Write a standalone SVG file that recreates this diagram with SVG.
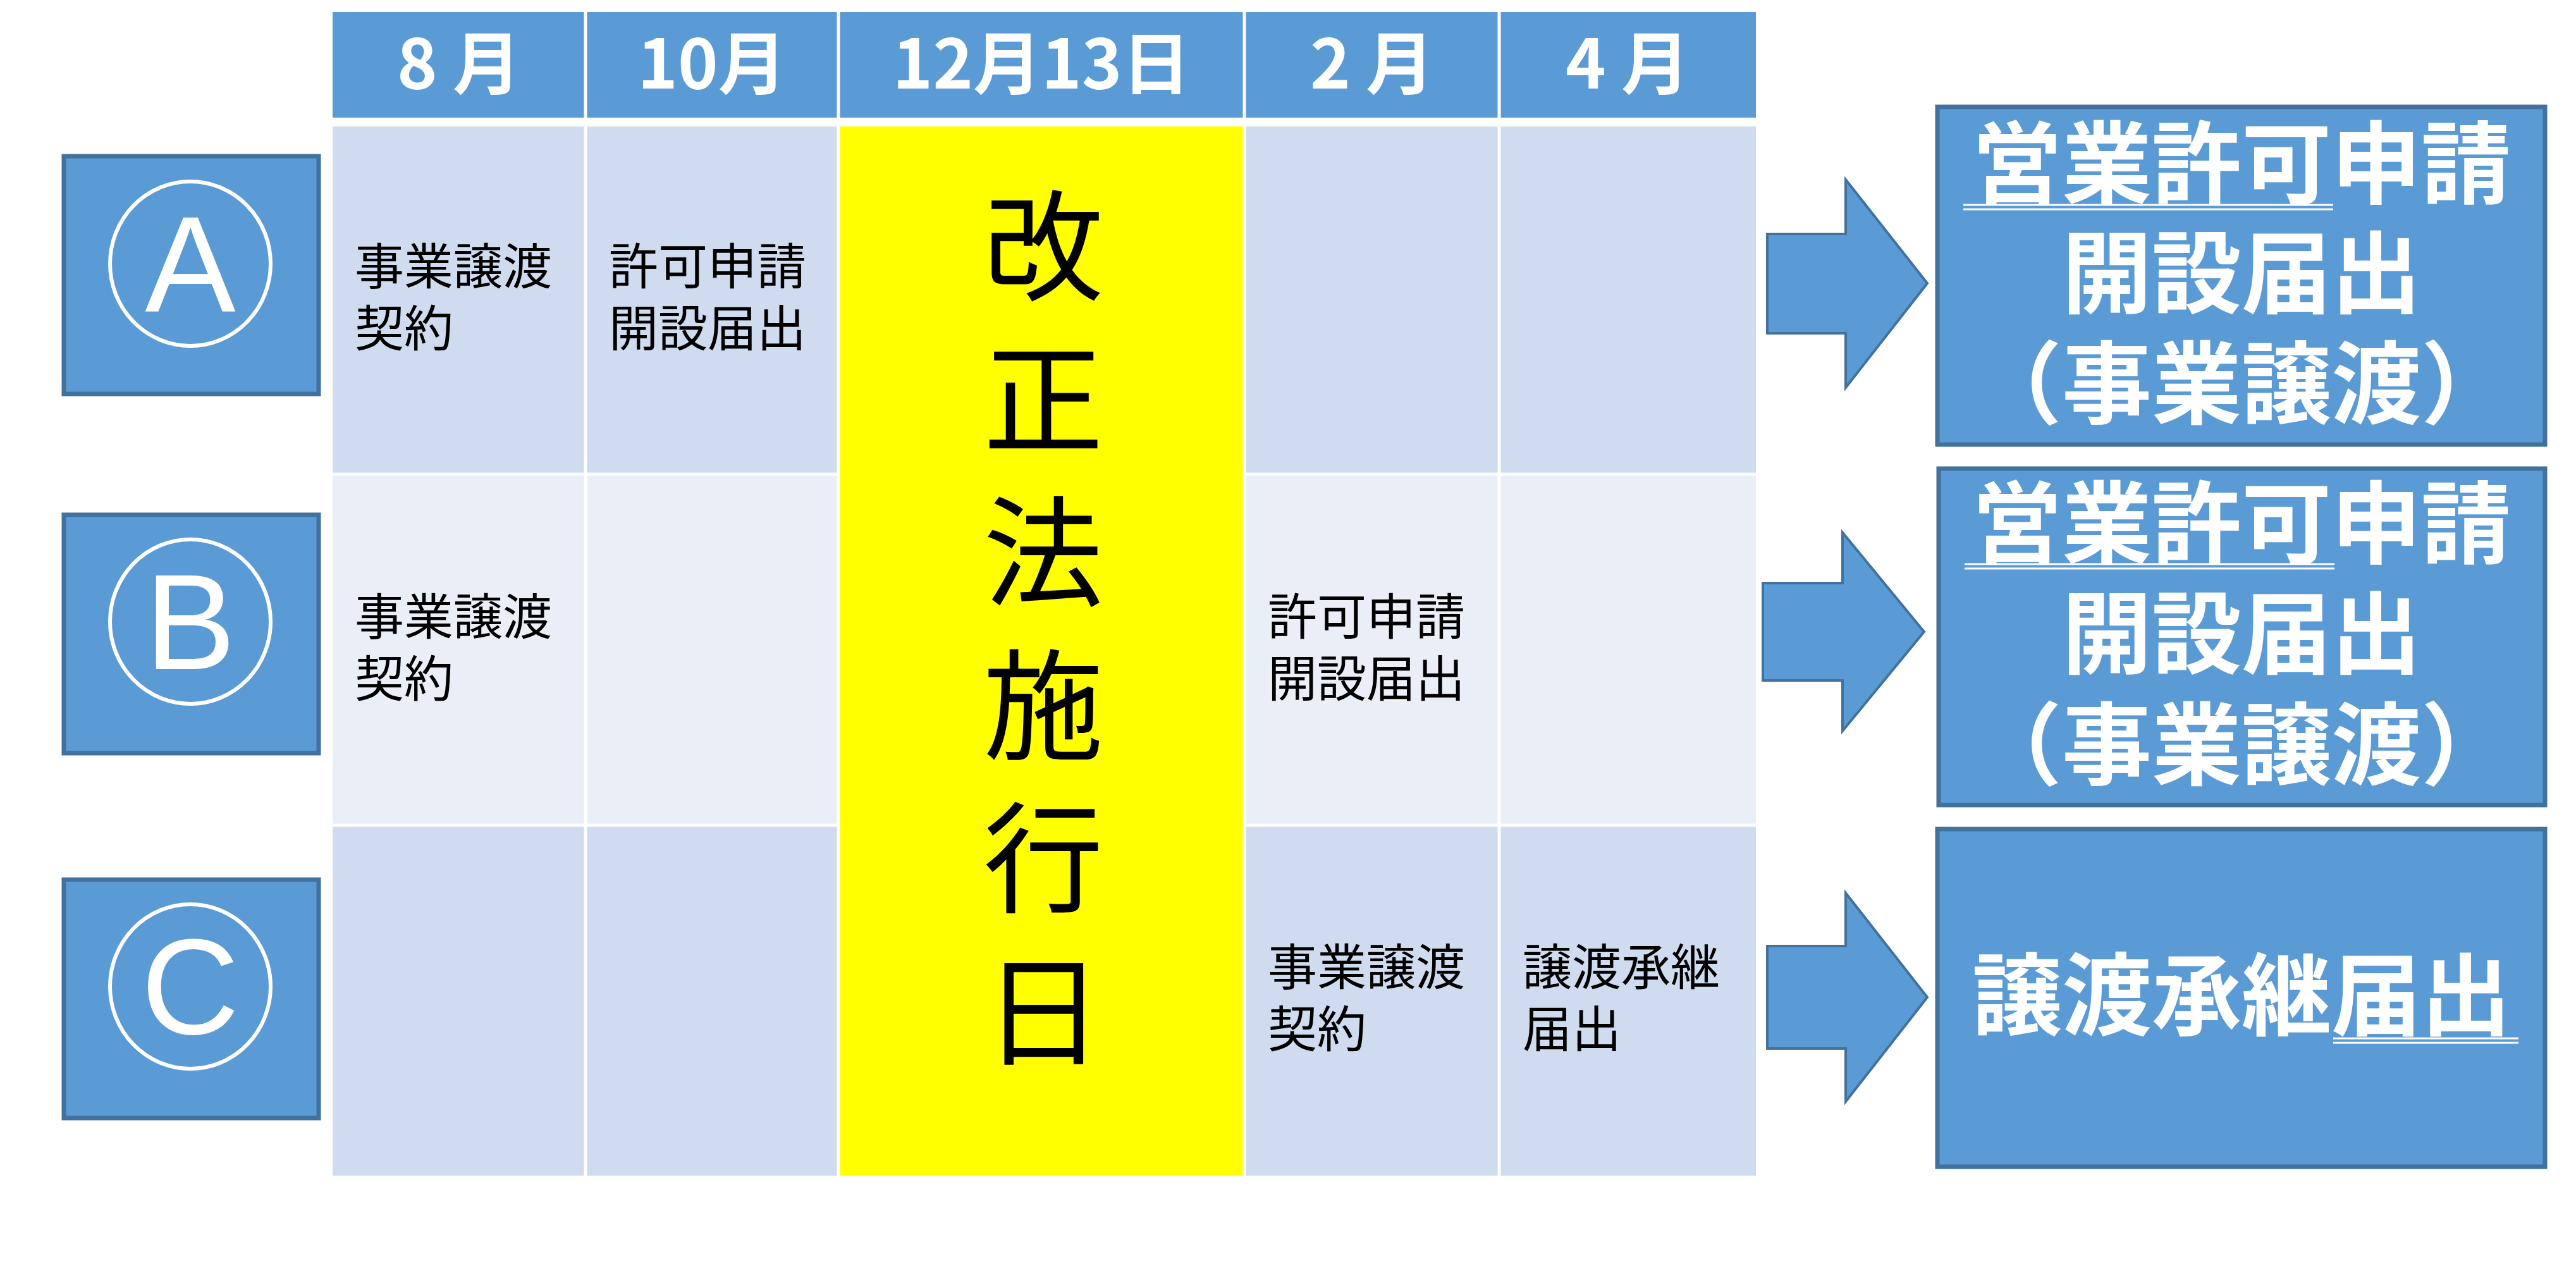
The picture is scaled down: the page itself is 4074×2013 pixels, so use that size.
<svg xmlns="http://www.w3.org/2000/svg" width="4074" height="2013" viewBox="0 0 4074 2013">
<style>
.hd{fill:#5B9BD5}
.c1{fill:#CFDBEE}
.c2{fill:#E9EEF7}
.grid{stroke:#fff;stroke-width:5}
.hdt{font-family:"Noto Sans CJK JP",sans-serif;font-weight:bold;font-size:108px;fill:#fff;text-anchor:middle}
.bt{font-family:"Noto Sans CJK JP",sans-serif;font-size:78px;fill:#000}
.vt{font-family:"Noto Sans CJK JP",sans-serif;font-size:190px;fill:#000;text-anchor:middle}
.lb{fill:#5B9BD5;stroke:#41719C;stroke-width:7}
.lt{font-family:"Liberation Sans",sans-serif;font-size:215px;fill:#fff;text-anchor:middle}
.ci{fill:none;stroke:#fff;stroke-width:6}
.rt{font-family:"Noto Sans CJK JP",sans-serif;font-weight:bold;font-size:142px;fill:#fff;text-anchor:middle}
.ul{stroke:#fff;stroke-width:3}
.ar{fill:#5B9BD5;stroke:#41719C;stroke-width:4}
</style>
<rect width="4074" height="2013" fill="#fff"/>
<g id="table">
<rect class="hd" x="526" y="19" width="2251" height="167"/>
<rect class="c1" x="526" y="200" width="2251" height="550"/>
<rect class="c2" x="526" y="750" width="2251" height="555"/>
<rect class="c1" x="526" y="1305" width="2251" height="554"/>
<rect x="1326" y="200" width="642" height="1659" fill="#FFFF00"/>
<g class="grid">
<line x1="526" y1="193" x2="2777" y2="193" stroke-width="14"/>
<line x1="926" y1="19" x2="926" y2="1859"/>
<line x1="1326" y1="19" x2="1326" y2="1859"/>
<line x1="1968" y1="19" x2="1968" y2="1859"/>
<line x1="2371" y1="19" x2="2371" y2="1859"/>
<line x1="526" y1="750" x2="1326" y2="750"/>
<line x1="1968" y1="750" x2="2777" y2="750"/>
<line x1="526" y1="1305" x2="1326" y2="1305"/>
<line x1="1968" y1="1305" x2="2777" y2="1305"/>
</g>
<text class="hdt" x="726" y="140">8 月</text>
<text class="hdt" x="1126" y="140">10月</text>
<text class="hdt" x="1647" y="140">12月13日</text>
<text class="hdt" x="2170" y="140">2 月</text>
<text class="hdt" x="2574" y="140">4 月</text>
<text class="bt" x="561" y="450">事業譲渡</text>
<text class="bt" x="561" y="548">契約</text>
<text class="bt" x="963" y="450">許可申請</text>
<text class="bt" x="963" y="548">開設届出</text>
<text class="bt" x="561" y="1004">事業譲渡</text>
<text class="bt" x="561" y="1102">契約</text>
<text class="bt" x="2005" y="1004">許可申請</text>
<text class="bt" x="2005" y="1102">開設届出</text>
<text class="bt" x="2005" y="1558">事業譲渡</text>
<text class="bt" x="2005" y="1656">契約</text>
<text class="bt" x="2408" y="1558">譲渡承継</text>
<text class="bt" x="2408" y="1656">届出</text>
<text class="vt" x="1650" y="460">改</text>
<text class="vt" x="1650" y="702">正</text>
<text class="vt" x="1650" y="944">法</text>
<text class="vt" x="1650" y="1186">施</text>
<text class="vt" x="1650" y="1428">行</text>
<text class="vt" x="1650" y="1670">日</text>
</g>
<g id="A">
<rect class="lb" x="101" y="247" width="403" height="376"/>
<ellipse class="ci" cx="301" cy="417" rx="127" ry="130"/>
<text class="lt" x="301" y="492">A</text>
</g>
<g id="B">
<rect class="lb" x="101" y="814" width="403" height="377"/>
<ellipse class="ci" cx="301" cy="983" rx="127" ry="130"/>
<text class="lt" x="301" y="1058">B</text>
</g>
<g id="C">
<rect class="lb" x="101" y="1391" width="403" height="377"/>
<ellipse class="ci" cx="301" cy="1560" rx="127" ry="130"/>
<text class="lt" x="301" y="1635">C</text>
</g>
<g id="connectors">
<polygon class="ar" points="2795,370 2919,370 2919,284 3048,448 2919,613 2919,527 2795,527"/>
<polygon class="ar" points="2788,922 2914,922 2914,842 3043,999 2914,1156 2914,1076 2788,1076"/>
<polygon class="ar" points="2795,1496 2919,1496 2919,1412 3048,1577 2919,1742 2919,1658 2795,1658"/>
</g>
<g id="R1">
<rect class="lb" x="3064" y="169" width="961" height="534"/>
<text class="rt" x="3545" y="311">営業許可申請</text>
<text class="rt" x="3545" y="484">開設届出</text>
<text class="rt" x="3545" y="659">（事業譲渡）</text>
<line class="ul" x1="3105" y1="324" x2="3690" y2="324"/>
<line class="ul" x1="3105" y1="331" x2="3690" y2="331"/>
</g>
<g id="R2">
<rect class="lb" x="3066" y="741" width="959" height="532"/>
<text class="rt" x="3545" y="880">営業許可申請</text>
<text class="rt" x="3545" y="1054">開設届出</text>
<text class="rt" x="3545" y="1230">（事業譲渡）</text>
<line class="ul" x1="3107" y1="892" x2="3692" y2="892"/>
<line class="ul" x1="3107" y1="899" x2="3692" y2="899"/>
</g>
<g id="R3">
<rect class="lb" x="3064" y="1311" width="961" height="534"/>
<text class="rt" x="3545" y="1626">譲渡承継届出</text>
<line class="ul" x1="3690" y1="1642" x2="3983" y2="1642"/>
<line class="ul" x1="3690" y1="1649" x2="3983" y2="1649"/>
</g>
</svg>
